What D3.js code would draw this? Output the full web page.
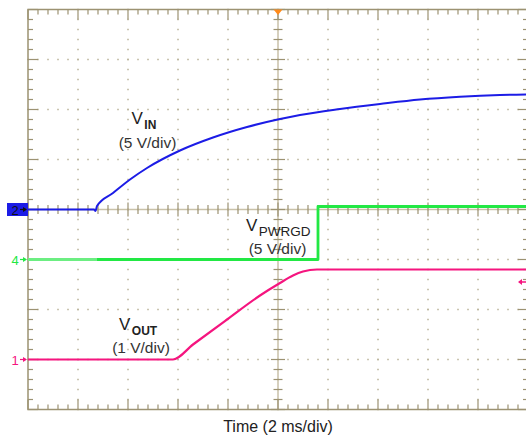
<!DOCTYPE html>
<html>
<head>
<meta charset="utf-8">
<script src="https://cdn.jsdelivr.net/npm/d3@7"></script>
<style>
  html, body { margin: 0; padding: 0; background: #fff; }
  svg { display: block; font-family: "Liberation Sans", Arial, sans-serif; }
</style>
</head>
<body>
<div id="chart"></div>
<script>
// time in ms (2 ms/div, 10 div), voltages in volts
const vinTime  = [0, 2.64, 2.70, 2.76, 3.4, 4.08, 4.76, 6.08, 7.4, 8.76, 10.08, 10.88, 12.48, 14.08, 15.68, 17.28, 18.88, 20];
const vinVolts = [0, 0, -0.15, 0.35, 1.65, 3.0, 4.15, 5.9, 7.2, 8.25, 9.05, 9.45, 10.05, 10.55, 11.0, 11.28, 11.45, 11.5];

const pgTime  = [0, 11.6, 11.6, 20];
const pgVolts = [0, 0, 5.3, 5.3];

const voutTime  = [0, 5.8, 6.6, 7.96, 9.28, 10.08, 10.6, 11.0, 11.56, 20];
const voutVolts = [0, 0, 0.3, 0.8, 1.28, 1.53, 1.68, 1.76, 1.8, 1.8];

// channel settings: volts per division and ground offset (div from centre)
const channels = [
  { id: '2', name: 'IN', scale: '(5 V/div)', vdiv: 5, offset: 0, color: '#1c1ce6', t: vinTime, v: vinVolts, w: 2, curve: d3.curveMonotoneX },
  { id: '4', name: 'PWRGD', scale: '(5 V/div)', vdiv: 5, offset: -1, color: '#22e844', t: pgTime, v: pgVolts, w: 2.8, curve: d3.curveLinear },
  { id: '1', name: 'OUT', scale: '(1 V/div)', vdiv: 1, offset: -3, color: '#f5157f', t: voutTime, v: voutVolts, w: 2.2, curve: d3.curveMonotoneX }
];

const width = 526;
const height = 436;
const marginLeft = 28;
const marginTop = 9.5;
const divPx = 50;

const $svg = d3.select('#chart').append('svg')
  .attr('width', width)
  .attr('height', height);

const scaleX = d3.scaleLinear().domain([0, 20]).range([marginLeft, marginLeft + 10 * divPx]);
const scaleY = d3.scaleLinear().domain([-4, 4]).range([marginTop + 8 * divPx, marginTop]);

const gridCol = '#9c9272';
const dotCol = '#bbb398';
const $grid = $svg.append('g').attr('class', 'grid');

// dotted grid
const minorX = d3.range(0, 20.01, 0.4);
const minorY = d3.range(-4, 4.01, 0.2);
d3.range(2, 20, 2).forEach(t => {
  $grid.selectAll(null).data(minorY).enter().append('rect')
    .attr('x', scaleX(t) - 0.75).attr('y', d => scaleY(d) - 0.75)
    .attr('width', 1.5).attr('height', 1.5).attr('fill', dotCol);
});
d3.range(-3, 4, 1).forEach(d => {
  $grid.selectAll(null).data(minorX).enter().append('rect')
    .attr('x', t => scaleX(t) - 0.75).attr('y', scaleY(d) - 0.75)
    .attr('width', 1.5).attr('height', 1.5).attr('fill', dotCol);
});

// centre cross with ticks
const crossCol = '#c9c1a9';
const isMajX = t => Math.abs(t / 2 - Math.round(t / 2)) < 1e-6;
const isMajY = d => Math.abs(d - Math.round(d)) < 1e-6;
$grid.append('line')
  .attr('x1', scaleX(10)).attr('x2', scaleX(10))
  .attr('y1', scaleY(4)).attr('y2', scaleY(-4))
  .attr('stroke', crossCol).attr('stroke-width', 1.5);
$grid.append('line')
  .attr('x1', scaleX(0)).attr('x2', scaleX(20))
  .attr('y1', scaleY(0)).attr('y2', scaleY(0))
  .attr('stroke', crossCol).attr('stroke-width', 1.5);
$grid.selectAll(null).data(minorY).enter().append('line')
  .attr('x1', d => scaleX(10) - (isMajY(d) ? 7 : 4.5))
  .attr('x2', d => scaleX(10) + (isMajY(d) ? 7 : 4.5))
  .attr('y1', d => scaleY(d)).attr('y2', d => scaleY(d))
  .attr('stroke', gridCol).attr('stroke-width', 1.2);
$grid.selectAll(null).data(minorX).enter().append('line')
  .attr('y1', t => scaleY(0) - (isMajX(t) ? 7 : 4.5))
  .attr('y2', t => scaleY(0) + (isMajX(t) ? 7 : 4.5))
  .attr('x1', t => scaleX(t)).attr('x2', t => scaleX(t))
  .attr('stroke', gridCol).attr('stroke-width', 1.2);

// border ticks
[scaleY(4), scaleY(-4)].forEach((y0, i) => {
  const dir = i === 0 ? 1 : -1;
  $grid.selectAll(null).data(minorX).enter().append('line')
    .attr('x1', t => scaleX(t)).attr('x2', t => scaleX(t))
    .attr('y1', y0).attr('y2', t => y0 + dir * (isMajX(t) ? 10 : 5))
    .attr('stroke', gridCol).attr('stroke-width', 1.2);
});
[scaleX(0), scaleX(20)].forEach((x0, i) => {
  const dir = i === 0 ? 1 : -1;
  $grid.selectAll(null).data(minorY).enter().append('line')
    .attr('y1', d => scaleY(d)).attr('y2', d => scaleY(d))
    .attr('x1', x0).attr('x2', d => x0 + dir * (isMajY(d) ? 10 : 5))
    .attr('stroke', gridCol).attr('stroke-width', 1.2);
});

// frame
$grid.append('rect')
  .attr('x', scaleX(0)).attr('y', scaleY(4))
  .attr('width', scaleX(20) - scaleX(0)).attr('height', scaleY(-4) - scaleY(4))
  .attr('fill', 'none').attr('stroke', gridCol).attr('stroke-width', 1.5);

// traces
const $traces = $svg.append('g').attr('class', 'traces');
channels.forEach(ch => {
  const pts = ch.t.map((t, i) => [t, ch.v[i]]);
  const line = d3.line()
    .x(d => scaleX(d[0]))
    .y(d => scaleY(ch.offset + d[1] / ch.vdiv))
    .curve(ch.curve);
  $traces.append('path')
    .datum(pts)
    .attr('d', line)
    .attr('fill', 'none')
    .attr('stroke', ch.color)
    .attr('stroke-width', ch.w)
    .attr('stroke-linejoin', 'round');
  if (ch.id === '4') {
    // faded start of the power-good trace, before VIN begins to rise
    $traces.append('path')
      .datum([[0, 0], [vinTime[3], 0]])
      .attr('d', line)
      .attr('fill', 'none')
      .attr('stroke', '#6cee82')
      .attr('stroke-width', ch.w);
  }
});

// channel ground markers on the left
const $markers = $svg.append('g').attr('class', 'markers');
channels.forEach(ch => {
  const y = scaleY(ch.offset);
  const $m = $markers.append('g').attr('transform', `translate(0,${y})`);
  const textCol = ch.id === '2' ? '#111' : ch.color;
  if (ch.id === '2') {
    $m.append('rect').attr('x', 7).attr('y', -6.5).attr('width', 21).attr('height', 13).attr('fill', ch.color);
  }
  $m.append('text').attr('x', 15).attr('y', 5).attr('text-anchor', 'middle')
    .attr('font-size', 13).attr('fill', textCol).text(ch.id);
  $m.append('line').attr('x1', 20).attr('x2', 26).attr('y1', 0).attr('y2', 0)
    .attr('stroke', textCol).attr('stroke-width', 1.2);
  $m.append('path').attr('d', 'M23,-2.5 L27,0 L23,2.5 Z').attr('fill', textCol);
});

// trigger level marker (right) and trigger position (top)
const trigLevel = 1.55;
const ty = scaleY(channels[2].offset + trigLevel / channels[2].vdiv);
$markers.append('line').attr('x1', 519).attr('x2', 526).attr('y1', ty).attr('y2', ty)
  .attr('stroke', '#f5157f').attr('stroke-width', 1.5);
$markers.append('path').attr('d', `M518,${ty} L522,${ty - 3} L522,${ty + 3} Z`).attr('fill', '#f5157f');
$markers.append('path')
  .attr('d', `M${scaleX(10) - 4.5},${marginTop} L${scaleX(10) + 4.5},${marginTop} L${scaleX(10)},${marginTop + 5.5} Z`)
  .attr('fill', '#ff8a1a');

// labels
const $labels = $svg.append('g').attr('class', 'labels').attr('fill', '#222');
function label(x, y, sub, subBold, scaleTxt, sx, sy) {
  const $t = $labels.append('text').attr('x', x).attr('y', y);
  $t.append('tspan').attr('font-size', 17).text('V');
  $t.append('tspan').attr('font-size', subBold ? 12 : 13.5).attr('font-weight', subBold ? 'bold' : 'normal')
    .attr('dx', 1.5).attr('dy', subBold ? 4.5 : 5).text(sub);
  $labels.append('text').attr('x', sx).attr('y', sy).attr('text-anchor', 'middle')
    .attr('font-size', 15.5).attr('fill', '#333').text(scaleTxt);
}
label(131.5, 124, 'IN', true, channels[0].scale, 147.5, 148);
label(246, 231, 'PWRGD', false, channels[1].scale, 277.5, 254);
label(119, 330, 'OUT', true, channels[2].scale, 141, 353);

$svg.append('text')
  .attr('x', 278).attr('y', 432)
  .attr('text-anchor', 'middle')
  .attr('font-size', 16)
  .attr('fill', '#222')
  .text('Time (2 ms/div)');
</script>
</body>
</html>
